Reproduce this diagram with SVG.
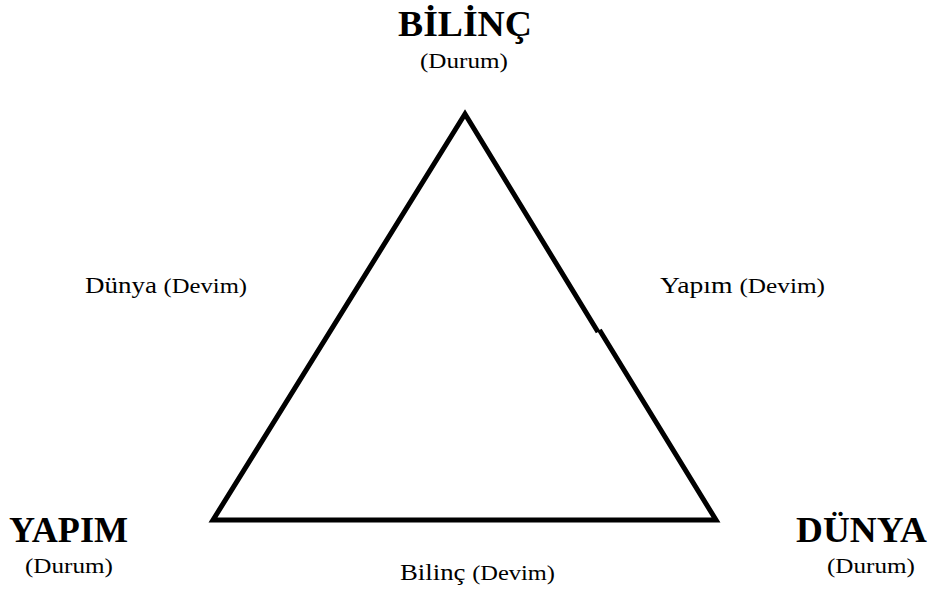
<svg xmlns="http://www.w3.org/2000/svg" width="933" height="592" viewBox="0 0 933 592">
<style>
.t{font-family:"Liberation Serif","Times New Roman",serif;fill:#000}
.b{font-weight:bold;font-size:35px}
.s{font-size:21px}
.m{font-size:23px}
.e{fill:none;stroke:#000;stroke-width:5;stroke-linejoin:miter;stroke-miterlimit:10}
</style>
<rect width="933" height="592" fill="#fff"/>
<g id="connectors">
<path class="e" d="M598,332 L465,114 L213,520 L716,520 L599.5,330"/>
</g>
<g id="bilinc">
<text class="t b" x="465" y="36" text-anchor="middle" textLength="134" lengthAdjust="spacingAndGlyphs">BİLİNÇ</text>
<text class="t s" x="464" y="68" text-anchor="middle" textLength="88" lengthAdjust="spacingAndGlyphs">(Durum)</text>
</g>
<g id="yapim">
<text class="t b" x="68.5" y="542" text-anchor="middle" textLength="119" lengthAdjust="spacingAndGlyphs">YAPIM</text>
<text class="t s" x="69" y="573" text-anchor="middle" textLength="88" lengthAdjust="spacingAndGlyphs">(Durum)</text>
</g>
<g id="dunya">
<text class="t b" x="861.5" y="542" text-anchor="middle" textLength="131" lengthAdjust="spacingAndGlyphs">DÜNYA</text>
<text class="t s" x="871" y="573" text-anchor="middle" textLength="88" lengthAdjust="spacingAndGlyphs">(Durum)</text>
</g>
<g id="edge-labels">
<text class="t m" x="85" y="293" textLength="162" lengthAdjust="spacingAndGlyphs">Dünya <tspan font-size="21">(Devim)</tspan></text>
<text class="t m" x="660" y="293" textLength="165" lengthAdjust="spacingAndGlyphs">Yapım <tspan font-size="21">(Devim)</tspan></text>
<text class="t m" x="400" y="580" textLength="155" lengthAdjust="spacingAndGlyphs">Bilinç <tspan font-size="21">(Devim)</tspan></text>
</g>
</svg>
